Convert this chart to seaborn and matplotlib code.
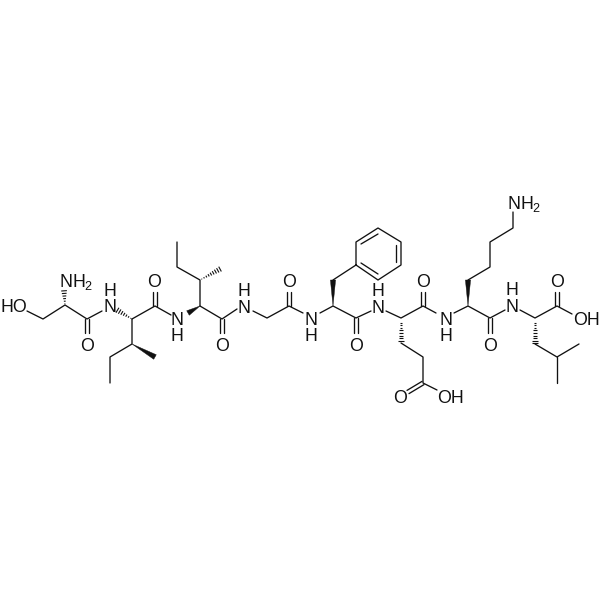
import numpy as np
import pandas as pd
import matplotlib
matplotlib.use("Agg")
import matplotlib.pyplot as plt
import seaborn as sns

# Polylines of single bonds (image pixel coordinates)
backbone_chains = [
    [(27, 311), (43, 319), (65, 305), (87, 319), (102, 311)],
    [(132, 319), (155, 306), (171, 315)],
    [(200, 306), (222, 319), (237, 309)],
    [(253, 311), (267, 318), (289, 306), (303, 313)],
    [(320, 313), (333, 306), (356, 318), (371, 311)],
    [(386, 311), (401, 318), (423, 306), (436, 313)],
    [(454, 313), (468, 306), (490, 318), (505, 310)],
    [(520, 310), (535, 318), (557, 306), (572, 314)],
]
side_chains = [
    [(132, 319), (132, 344), (110, 357), (110, 383)],
    [(200, 306), (200, 280), (177, 267), (177, 242)],
    [(333, 280), (356, 265)],
    [(401, 343), (423, 357), (423, 383), (437, 390)],
    [(468, 280), (490, 267), (490, 242), (513, 228), (513, 212)],
    [(535, 344), (557, 357), (579, 344)],
    [(557, 357), (557, 383)],
]
ring = [(356, 265), (356, 242), (378, 228), (401, 242), (401, 265), (378, 280), (356, 265)]
ring_inner = [
    [(361, 244), (378, 234)],
    [(396, 245), (396, 262)],
    [(378, 274), (361, 263)],
]
carbonyls = [
    [(87, 319), (87, 333)],
    [(155, 306), (155, 292)],
    [(222, 319), (222, 333)],
    [(289, 306), (289, 292)],
    [(356, 318), (356, 333)],
    [(423, 306), (423, 292)],
    [(490, 318), (490, 333)],
    [(557, 306), (557, 292)],
    [(423, 383), (408, 392)],
]
wedges = [
    [(132, 344), (155, 357)],
    [(200, 306), (188, 313)],
    [(333, 306), (333, 280)],
    [(468, 306), (468, 280)],
]
hashes = [
    [(65, 305), (64, 290)],
    [(132, 319), (117, 310)],
    [(200, 280), (222, 268)],
    [(401, 318), (401, 343)],
    [(535, 318), (535, 344)],
]
atom_labels = [
    ("HO", 14, 306), ("N", 66, 281), ("O", 87, 345), ("N", 110, 306), ("H", 110, 290),
    ("O", 154, 281), ("N", 177, 319), ("H", 177, 335), ("O", 222, 345), ("N", 244, 307),
    ("H", 244, 290), ("O", 289, 281), ("N", 311, 319), ("H", 311, 335), ("O", 356, 345),
    ("N", 378, 307), ("H", 378, 290), ("O", 423, 281), ("N", 446, 319), ("H", 446, 335),
    ("O", 490, 345), ("N", 512, 306), ("H", 512, 289), ("O", 557, 281), ("O", 400, 397),
    ("OH", 451, 397), ("OH", 586, 319), ("N", 514, 203),
]
h2_labels = [("H", 79, 281), ("H", 527, 203)]
sub_labels = [("2", 88, 286), ("2", 536, 208)]

sns.set_theme(style="white")
plt.rcParams["font.family"] = ["Liberation Sans", "DejaVu Sans"]
fig, ax = plt.subplots(figsize=(6, 6), dpi=100)
ax.set_position([0, 0, 1, 1])
ax.set_xlim(0, 600)
ax.set_ylim(600, 0)
ax.axis("off")

LW = 0.95
INK = "#111111"

rows = []
uid = 0
def add(pts):
    global uid
    for i, (x, y) in enumerate(pts):
        rows.append({"x": x, "y": y, "bond": uid, "order": i})
    uid += 1

for c in backbone_chains + side_chains + [ring] + ring_inner:
    add(c)
for (p, q) in carbonyls:
    p, q = np.array(p, float), np.array(q, float)
    d = q - p
    n = np.array([-d[1], d[0]]) / np.hypot(*d)
    for s in (-1, 1):
        add([tuple(p + s * 1.9 * n), tuple(q + s * 1.9 * n)])

df = pd.DataFrame(rows)
sns.lineplot(data=df, x="x", y="y", units="bond", estimator=None, sort=False,
             color=INK, lw=LW, ax=ax, legend=False)

for (p, q) in wedges:
    p, q = np.array(p, float), np.array(q, float)
    d = q - p
    n = np.array([-d[1], d[0]]) / np.hypot(*d)
    ax.fill(*zip(p, q + 2.6 * n, q - 2.6 * n), color=INK, lw=0.3)

for (p, q) in hashes:
    p, q = np.array(p, float), np.array(q, float)
    d = q - p
    L = np.hypot(*d)
    n = np.array([-d[1], d[0]]) / L
    for t in np.arange(0.08, 1.01, 2.6 / L):
        c = p + t * d
        w = 2.8 * t + 0.2
        ax.plot(*zip(c - w * n, c + w * n), color=INK, lw=0.8, solid_capstyle="butt")

for s, x, y in atom_labels + h2_labels:
    ax.text(x, y + 5.8, s, ha="center", va="baseline", fontsize=12.8, color=INK)
for s, x, y in sub_labels:
    ax.text(x, y + 4, s, ha="center", va="baseline", fontsize=9, color=INK)

fig.savefig("out.png", dpi=100)
